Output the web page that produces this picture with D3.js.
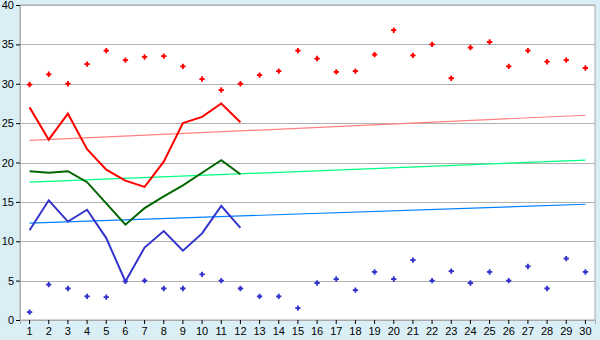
<!DOCTYPE html>
<html>
<head>
<meta charset="utf-8">
<script src="https://cdn.jsdelivr.net/npm/d3@7"></script>
<style>
  body { margin: 0; background: #daeef5; }
  svg { display: block; font-family: "DejaVu Sans", Verdana, sans-serif; }
  .tick text { font-size: 11px; fill: #000; }
</style>
</head>
<body>
<div class="chart"></div>
<script>
let svgWidth = 600;
let svgHeight = 340;

let margin = { top: 5, right: 5, bottom: 20, left: 20 };

let width = svgWidth - margin.left - margin.right;
let height = svgHeight - margin.top - margin.bottom;

// categories 1..30
let days = ["1","2","3","4","5","6","7","8","9","10","11","12","13","14","15",
  "16","17","18","19","20","21","22","23","24","25","26","27","28","29","30"];

let yTicks = [0, 5, 10, 15, 20, 25, 30, 35, 40];

// scatter points
let highDots = [29.9, 31.2, 30.0, 32.5, 34.2, 33.0, 33.4, 33.5, 32.2, 30.6,
  29.2, 30.0, 31.1, 31.6, 34.2, 33.2, 31.5, 31.6, 33.7, 36.8,
  33.6, 35.0, 30.7, 34.6, 35.3, 32.2, 34.2, 32.8, 33.0, 32.0];
let lowDots = [1.0, 4.5, 4.0, 3.0, 2.9, 4.9, 5.0, 4.0, 4.0, 5.8,
  5.0, 4.0, 3.0, 3.0, 1.5, 4.7, 5.2, 3.8, 6.1, 5.2,
  7.6, 5.0, 6.2, 4.7, 6.1, 5.0, 6.8, 4.0, 7.8, 6.1];

// lines, first 12 days
let redLine = [27.0, 22.9, 26.2, 21.7, 19.1, 17.7, 16.9, 20.1, 25.0, 25.8, 27.5, 25.1];
let greenLine = [18.9, 18.7, 18.9, 17.5, 14.8, 12.1, 14.2, 15.7, 17.1, 18.7, 20.3, 18.5];
let blueLine = [11.4, 15.2, 12.5, 14.0, 10.4, 4.9, 9.2, 11.3, 8.8, 11.0, 14.5, 11.7];

// trend lines, value at day 1 and day 30
let redTrend = [22.8, 26.0];
let greenTrend = [17.5, 20.3];
let blueTrend = [12.3, 14.7];

let svg = d3.select(".chart")
  .append("svg")
  .attr("width", svgWidth)
  .attr("height", svgHeight);

let chartGroup = svg.append("g")
  .attr("transform", `translate(${margin.left}, ${margin.top})`);

let xBand = d3.scaleBand()
  .domain(days)
  .range([0, width]);

let x = d => xBand(d) + xBand.bandwidth() / 2;

let yLinearScale = d3.scaleLinear()
  .domain([0, 40])
  .range([height, 0]);

chartGroup.append("rect")
  .attr("width", width)
  .attr("height", height)
  .attr("fill", "#fff")
  .attr("stroke", "#aaa");

// grid
chartGroup.selectAll(".grid")
  .data(yTicks.slice(1))
  .enter()
  .append("line")
  .attr("x1", 0)
  .attr("x2", width)
  .attr("y1", d => Math.round(yLinearScale(d)) + 0.5)
  .attr("y2", d => Math.round(yLinearScale(d)) + 0.5)
  .attr("stroke", "#b0b0b0");

let xAxis = d3.axisBottom(xBand).tickSize(4).tickPadding(3);
let yAxis = d3.axisLeft(yLinearScale).tickValues(yTicks).tickSize(4).tickPadding(2);

let xg = chartGroup.append("g")
  .attr("transform", `translate(0, ${height})`)
  .call(xAxis);
xg.select(".domain").attr("stroke", "#aaa");
xg.selectAll(".tick line").attr("stroke", "#000");

let yg = chartGroup.append("g")
  .call(yAxis);
yg.select(".domain").attr("stroke", "#aaa");
yg.selectAll(".tick line").attr("stroke", "#000");

// trend lines
let trends = [
  { vals: redTrend, color: "#ff8080" },
  { vals: greenTrend, color: "#00ff80" },
  { vals: blueTrend, color: "#0080ff" }
];
trends.forEach(t => {
  chartGroup.append("line")
    .attr("x1", x(days[0]))
    .attr("x2", x(days[days.length - 1]))
    .attr("y1", yLinearScale(t.vals[0]))
    .attr("y2", yLinearScale(t.vals[1]))
    .attr("stroke", t.color)
    .attr("stroke-width", 1.2);
});

let line = d3.line()
  .x((d, i) => x(days[i]))
  .y(d => yLinearScale(d));

[[redLine, "#ff0000"], [greenLine, "#006600"], [blueLine, "#3333cc"]].forEach(s => {
  chartGroup.append("path")
    .attr("d", line(s[0]))
    .attr("fill", "none")
    .attr("stroke", s[1])
    .attr("stroke-width", 2);
});

let marker = d3.symbol().type(d3.symbolCross).size(16);

[[highDots, "#ff0000"], [lowDots, "#3333cc"]].forEach(s => {
  chartGroup.selectAll(null)
    .data(s[0])
    .enter()
    .append("path")
    .attr("d", marker)
    .attr("transform", (d, i) => `translate(${x(days[i])}, ${yLinearScale(d)}) rotate(0)`)
    .attr("fill", s[1]);
  chartGroup.selectAll(null)
    .data(s[0])
    .enter()
    .append("path")
    .attr("d", d3.symbol().type(d3.symbolSquare).size(9))
    .attr("transform", (d, i) => `translate(${x(days[i])}, ${yLinearScale(d)}) rotate(45)`)
    .attr("fill", s[1]);
});
</script>
</body>
</html>
